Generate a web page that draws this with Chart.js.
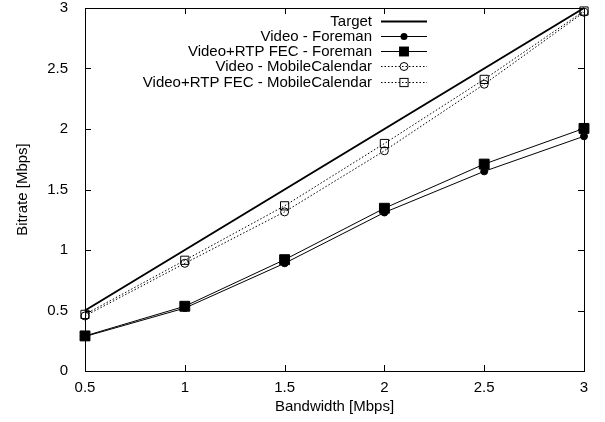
<!DOCTYPE html>
<html>
<head>
<meta charset="utf-8">
<script src="https://cdn.jsdelivr.net/npm/chart.js@4/dist/chart.umd.min.js"></script>
<style>
    html, body { margin: 0; padding: 0; background: #fff; }
</style>
</head>
<body>
<canvas id="bitrateChart" width="605" height="422"></canvas>
<script>
let bandwidth = [0.5, 1, 1.5, 2, 2.5, 3];
let target = [0.5, 1, 1.5, 2, 2.5, 3];
let videoForeman = [0.285, 0.52, 0.89, 1.31, 1.65, 1.94];
let fecForeman = [0.29, 0.535, 0.92, 1.345, 1.71, 2.005];
let videoMobile = [0.455, 0.89, 1.315, 1.82, 2.37, 2.965];
let fecMobile = [0.468, 0.915, 1.365, 1.88, 2.41, 2.975];

let xTicks = [0.5, 1, 1.5, 2, 2.5, 3];
let yTicks = [0, 0.5, 1, 1.5, 2, 2.5, 3];

let fontFamily = '"Liberation Sans", Arial, Helvetica, sans-serif';

let toPoints = function (ys) {
    return bandwidth.map(function (x, i) { return { x: x, y: ys[i] }; });
};

let series = [
    { label: 'Target', values: target, width: 2, dash: [], marker: null, fill: false, radius: 0 },
    { label: 'Video - Foreman', values: videoForeman, width: 1, dash: [], marker: 'circle', fill: true, radius: 3.5 },
    { label: 'Video+RTP FEC - Foreman', values: fecForeman, width: 1, dash: [], marker: 'rect', fill: true, radius: 7 },
    { label: 'Video - MobileCalendar', values: videoMobile, width: 1, dash: [1.5, 2], marker: 'circle', fill: false, radius: 4 },
    { label: 'Video+RTP FEC - MobileCalendar', values: fecMobile, width: 1, dash: [1.5, 2], marker: 'rect', fill: false, radius: 5.8 }
];

let datasets = series.map(function (s) {
    return {
        label: s.label,
        data: toPoints(s.values),
        borderColor: '#000',
        borderWidth: s.width,
        borderDash: s.dash,
        backgroundColor: s.fill ? '#000' : 'rgba(0,0,0,0)',
        pointStyle: s.marker || false,
        pointRadius: s.radius,
        pointBorderColor: '#000',
        pointBackgroundColor: s.fill ? '#000' : 'rgba(0,0,0,0)',
        pointBorderWidth: 1,
        tension: 0,
        clip: false
    };
});

// plain number labels like gnuplot: 0.5, 1, 1.5 ...
let plainLabel = function (value) {
    return String(Math.round(value * 10) / 10);
};

let gnuplotFrame = {
    id: 'gnuplotFrame',
    beforeDatasetsDraw: function (chart) {
        let ctx = chart.ctx;
        let a = chart.chartArea;
        let xs = chart.scales.x;
        let ys = chart.scales.y;
        ctx.save();
        ctx.strokeStyle = '#000';
        ctx.lineWidth = 1;
        ctx.beginPath();
        xTicks.forEach(function (t) {
            let px = Math.round(xs.getPixelForValue(t)) + 0.5;
            ctx.moveTo(px, a.bottom);
            ctx.lineTo(px, a.bottom - 6);
            ctx.moveTo(px, a.top);
            ctx.lineTo(px, a.top + 6);
        });
        yTicks.forEach(function (t) {
            let py = Math.round(ys.getPixelForValue(t)) + 0.5;
            ctx.moveTo(a.left, py);
            ctx.lineTo(a.left + 6, py);
            ctx.moveTo(a.right, py);
            ctx.lineTo(a.right - 6, py);
        });
        ctx.stroke();
        ctx.strokeRect(Math.round(a.left) + 0.5, Math.round(a.top) + 0.5,
            Math.round(a.right - a.left), Math.round(a.bottom - a.top));
        ctx.restore();
    },
    afterDraw: function (chart) {
        let ctx = chart.ctx;
        let textRight = 372;
        let lineStart = 381;
        let lineEnd = 427;
        let top = 20.5;
        let rowHeight = 15.3;
        ctx.save();
        ctx.font = '15px ' + fontFamily;
        ctx.fillStyle = '#000';
        ctx.textAlign = 'right';
        ctx.textBaseline = 'middle';
        series.forEach(function (s, i) {
            let y = Math.round(top + i * rowHeight) + 0.5;
            ctx.fillText(s.label, textRight, y);
            ctx.strokeStyle = '#000';
            ctx.lineWidth = s.width;
            ctx.setLineDash(s.dash);
            ctx.beginPath();
            ctx.moveTo(lineStart, y);
            ctx.lineTo(lineEnd, y);
            ctx.stroke();
            ctx.setLineDash([]);
            let cx = (lineStart + lineEnd) / 2;
            ctx.lineWidth = 1;
            if (s.marker === 'circle') {
                ctx.beginPath();
                ctx.arc(cx, y, s.radius, 0, Math.PI * 2);
                if (s.fill) { ctx.fill(); } else { ctx.stroke(); }
            } else if (s.marker === 'rect') {
                let h = s.radius * Math.SQRT1_2;
                if (s.fill) { ctx.fillRect(cx - h, y - h, 2 * h, 2 * h); }
                else { ctx.strokeRect(cx - h, y - h, 2 * h, 2 * h); }
            }
        });
        ctx.restore();
    }
};

let bitrateChartDraw = function () {
    let ctx = document.getElementById('bitrateChart').getContext('2d');

    window.bitrateChart = new Chart(ctx, {
        type: 'line',
        data: { datasets: datasets },
        plugins: [gnuplotFrame],
        options: {
            responsive: false,
            animation: false,
            devicePixelRatio: 1,
            layout: { padding: { top: 7, right: 21, left: 0, bottom: 0 } },
            plugins: {
                legend: { display: false },
                tooltip: { enabled: false }
            },
            scales: {
                x: {
                    type: 'linear',
                    min: 0.5,
                    max: 3,
                    afterBuildTicks: function (scale) {
                        scale.ticks = xTicks.map(function (v) { return { value: v }; });
                    },
                    afterFit: function (scale) {
                        scale.height = 51;
                        scale.paddingLeft = 0;
                        scale.paddingRight = 0;
                    },
                    grid: { display: false },
                    border: { display: false },
                    ticks: {
                        color: '#000',
                        padding: 0,
                        maxRotation: 0,
                        callback: plainLabel,
                        font: { size: 15, family: fontFamily }
                    },
                    title: {
                        display: true,
                        text: 'Bandwidth [Mbps]',
                        color: '#000',
                        padding: { top: 0, bottom: 6 },
                        font: { size: 15, family: fontFamily }
                    }
                },
                y: {
                    type: 'linear',
                    min: 0,
                    max: 3,
                    afterBuildTicks: function (scale) {
                        scale.ticks = yTicks.map(function (v) { return { value: v }; });
                    },
                    afterFit: function (scale) {
                        scale.width = 85;
                        scale.paddingTop = 0;
                        scale.paddingBottom = 0;
                    },
                    grid: { display: false },
                    border: { display: false },
                    ticks: {
                        color: '#000',
                        padding: 9,
                        callback: plainLabel,
                        font: { size: 15, family: fontFamily }
                    },
                    title: {
                        display: true,
                        text: 'Bitrate [Mbps]',
                        color: '#000',
                        padding: { top: 14, bottom: 0 },
                        font: { size: 15, family: fontFamily }
                    }
                }
            }
        }
    });
};

window.onload = function () {
    bitrateChartDraw();
};
</script>
</body>
</html>
